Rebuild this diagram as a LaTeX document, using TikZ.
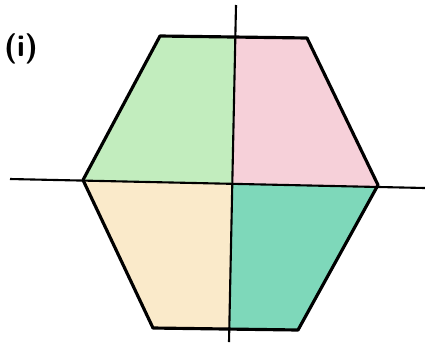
\documentclass[tikz,border=0pt]{standalone}
\usepackage{tikz}
\usepackage{xcolor}

\definecolor{leafgreen}{RGB}{120,215,110}
\definecolor{rosepink}{RGB}{235,150,170}
\definecolor{amber}{RGB}{240,185,80}
\definecolor{seateal}{RGB}{40,190,140}

\begin{document}
\begin{tikzpicture}[
  x=0.02cm, y=-0.02cm,
  hexline/.style={line width=1.8pt,line join=round},
  axisline/.style={line width=1.2pt},
  shade/.style={fill opacity=0.45},
  label/.style={font=\sffamily\bfseries\LARGE}
]
  \useasboundingbox (0,0) rectangle (425,342);
  % hexagon corners
  \coordinate (tl) at (160,36);
  \coordinate (tr) at (307,38);
  \coordinate (r) at (378,185);
  \coordinate (br) at (298,330);
  \coordinate (bl) at (153,328);
  \coordinate (l) at (83,180);
  \coordinate (o) at (232.3,183.8);
  % axis ends
  \coordinate (vtop) at (236,5);
  \coordinate (vbot) at (229,342);
  \coordinate (hleft) at (10,179);
  \coordinate (hright) at (425,188);
  % coloured quarters
  \begin{scope}
    \clip (tl) -- (tr) -- (r) -- (br) -- (bl) -- (l) -- cycle;
    \fill[leafgreen,shade] (0,0) -- (vtop) -- (o) -- (hleft) -- (0,179) -- cycle;
    \fill[rosepink,shade] (425,0) -- (vtop) -- (o) -- (hright) -- cycle;
    \fill[amber,shade,fill opacity=0.3] (0,342) -- (vbot) -- (o) -- (hleft) -- (0,179) -- cycle;
    \fill[seateal,shade,fill opacity=0.6] (425,342) -- (vbot) -- (o) -- (hright) -- cycle;
  \end{scope}
  \draw[hexline] (tl) -- (tr) -- (r) -- (br) -- (bl) -- (l) -- cycle;
  \draw[axisline] (vtop) -- (vbot);
  \draw[axisline] (hleft) -- (hright);
  \node[label] (tag) at (21,49) {(i)};
\end{tikzpicture}
\end{document}
